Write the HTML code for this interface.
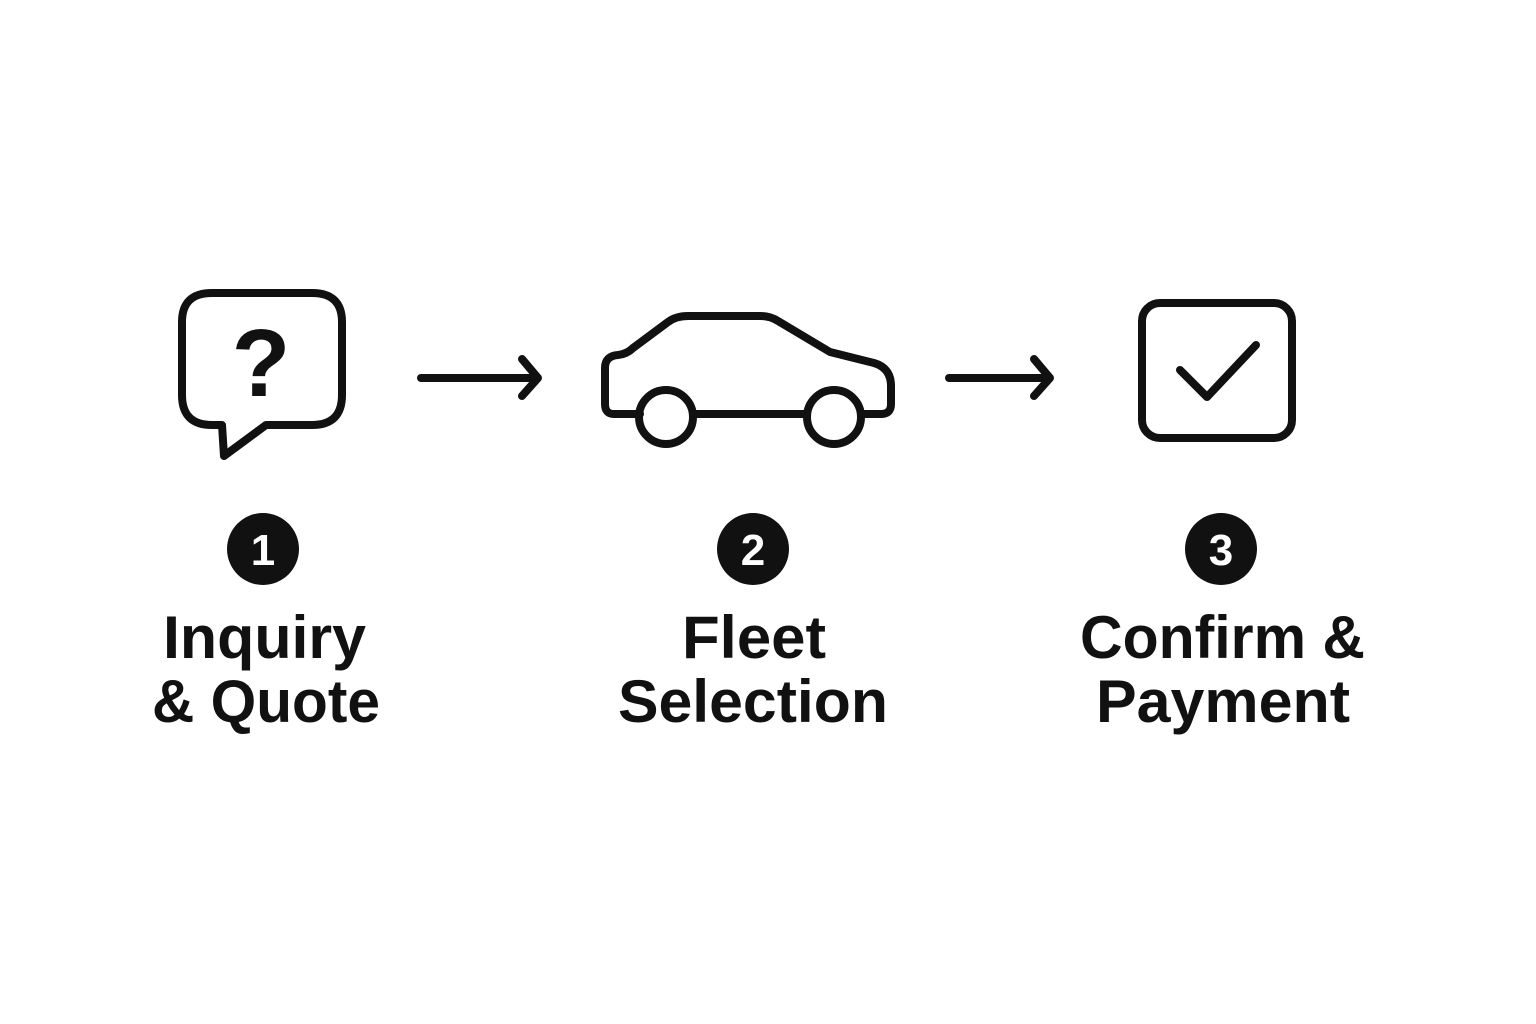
<!DOCTYPE html>
<html><head><meta charset="utf-8"><style>
html,body{margin:0;padding:0;background:#fff;}
svg{display:block;}
text{font-family:"Liberation Sans",sans-serif;font-weight:bold;fill:#111;}
</style></head><body>
<svg width="1536" height="1024" viewBox="0 0 1536 1024">
<rect width="1536" height="1024" fill="#fff"/>
<g fill="none" stroke="#111" stroke-width="8" stroke-linecap="round" stroke-linejoin="round">
  <!-- speech bubble -->
  <path d="M222,425 H212 Q182,425 182,395 V322 Q182,293 212,293 H312 Q342,293 342,322 V395 Q342,425 312,425 H266 L224,456 Z"/>
  <!-- arrow 1 -->
  <path d="M421,378 H537 M522,359 L538,378 L522,396"/>
  <!-- car -->
  <path d="M640,414 H614 Q605,414 605,404 V368 Q605,356 618,355 Q627,354 633,348 L668,322 Q676,316 688,316 H760 Q770,316 778,321 L830,352 L874,363 Q891,368 891,386 V404 Q891,414 881,414 H861 M694,414 H806"/>
  <circle cx="666" cy="417" r="27"/>
  <circle cx="834" cy="417" r="27"/>
  <!-- arrow 2 -->
  <path d="M949,378 H1049 M1034,359 L1050,378 L1034,396"/>
  <!-- checkbox -->
  <rect x="1142" y="303" width="150" height="135" rx="18"/>
  <path d="M1180,370 L1207,397 L1256,345"/>
</g>
<text x="261" y="396" font-size="96" text-anchor="middle">?</text>
<circle cx="263" cy="549" r="36" fill="#111"/>
<circle cx="753" cy="549" r="36" fill="#111"/>
<circle cx="1221" cy="549" r="36" fill="#111"/>
<text x="263" y="565" font-size="44" text-anchor="middle" style="fill:#fff">1</text>
<text x="753" y="565" font-size="44" text-anchor="middle" style="fill:#fff">2</text>
<text x="1221" y="565" font-size="44" text-anchor="middle" style="fill:#fff">3</text>
<g font-size="60">
<text x="163" y="658" textLength="203" lengthAdjust="spacingAndGlyphs">Inquiry</text>
<text x="152" y="722" textLength="228" lengthAdjust="spacingAndGlyphs">&amp; Quote</text>
<text x="682" y="658" textLength="144" lengthAdjust="spacingAndGlyphs">Fleet</text>
<text x="618" y="722" textLength="270" lengthAdjust="spacingAndGlyphs">Selection</text>
<text x="1080" y="658" textLength="285" lengthAdjust="spacingAndGlyphs">Confirm &amp;</text>
<text x="1096" y="722" textLength="254" lengthAdjust="spacingAndGlyphs">Payment</text>
</g>
</svg>
</body></html>
